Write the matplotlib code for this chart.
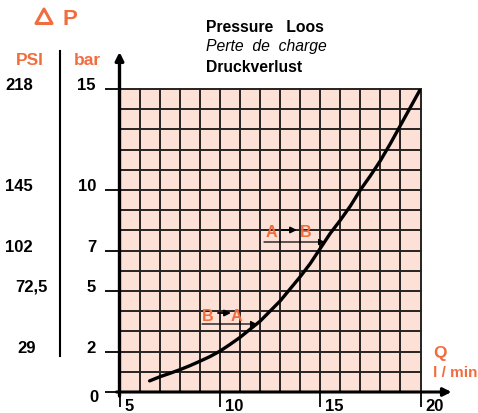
import matplotlib
matplotlib.use("Agg")
import matplotlib.pyplot as plt
import matplotlib.transforms as mtransforms
from matplotlib.patches import Polygon

# Pressure drop curve: flow (l/min) vs pressure loss (bar)
flow = [6.5, 7.0, 7.5, 8.0, 8.5, 9.0, 9.5, 10.0, 10.5, 11.0, 11.5, 12.0, 12.5,
        13.0, 13.5, 14.0, 14.5, 15.0, 15.5, 16.0, 16.5, 17.0, 17.5, 18.0,
        18.5, 19.0, 19.5, 20.0]
pressure_bar = [0.55, 0.75, 0.92, 1.1, 1.3, 1.52, 1.75, 2.02, 2.35, 2.7, 3.1,
                3.5, 4.0, 4.5, 5.1, 5.7, 6.35, 7.1, 7.85, 8.5, 9.2, 10.0,
                10.7, 11.45, 12.3, 13.2, 14.1, 15.0]

flow_ticks = [5, 10, 15, 20]
bar_ticks = [15, 10, 7, 5, 2, 0]
psi_ticks = [15, 10, 7, 5, 2]
psi_labels = ["218", "145", "102", "72,5", "29"]
psi_x = [5, 5, 5, 15, 17]

W, H = 478, 414
ORANGE = "#F26D3D"
PINK = "#FDE0D6"
GRID = "#262222"
FONT = ["Liberation Sans", "DejaVu Sans"]

fig = plt.figure(figsize=(W / 100, H / 100), dpi=100)
x0, x1 = 119.5, 420.5
y0, y1 = 393.0, 90.0
ax = fig.add_axes([x0 / W, 1 - y0 / H, (x1 - x0) / W, (y0 - y1) / H])
ax.set_xlim(5, 20)
ax.set_ylim(0, 15)
ax.set_facecolor(PINK)
for s in ax.spines.values():
    s.set_visible(False)

# grid
for gx in range(6, 21):
    ax.plot([gx, gx], [0, 15], color=GRID, lw=1.4, zorder=1, clip_on=False)
for gy in range(1, 16):
    ax.plot([5, 20], [gy, gy], color=GRID, lw=1.4, zorder=1, clip_on=False)

# ticks (labels drawn separately)
ax.set_xticks(flow_ticks)
ax.set_yticks(bar_ticks)
ax.tick_params(axis="both", direction="out", length=11, width=1.3,
               color="black", labelbottom=False, labelleft=False)

# axes with arrows
ax.annotate("", xy=(20 + 31 / 20.07, 0), xytext=(5 - 0.15, 0),
            arrowprops=dict(arrowstyle="-|>", lw=2.2, color="black",
                            mutation_scale=12, shrinkA=0, shrinkB=0),
            annotation_clip=False, zorder=5)
ax.annotate("", xy=(5, 15 + 37 / 20.2), xytext=(5, -0.2),
            arrowprops=dict(arrowstyle="-|>", lw=2.4, color="black",
                            mutation_scale=12, shrinkA=0, shrinkB=0),
            annotation_clip=False, zorder=5)

# curve
ax.plot(flow, pressure_bar, color="black", lw=2.4, zorder=4,
        solid_capstyle="round")

# x tick labels
off_x = mtransforms.ScaledTranslation(5 / 100, -18 / 100, fig.dpi_scale_trans)
bx = mtransforms.blended_transform_factory(ax.transData, ax.transAxes)
for t in flow_ticks:
    ax.text(t, 0, str(t), transform=bx + off_x, ha="left", va="baseline",
            fontsize=12, fontweight="bold", family=FONT)

# bar labels
by = mtransforms.blended_transform_factory(fig.transFigure, ax.transData)
off_zero = mtransforms.ScaledTranslation(0, -9 / 100, fig.dpi_scale_trans)
for t in bar_ticks:
    tr = by + off_zero if t == 0 else by
    rx = 98 if t == 0 else 96
    ax.text(rx / W, t, str(t), transform=tr, ha="right", va="baseline",
            fontsize=12, fontweight="bold", family=FONT)

# PSI labels
for t, lab, px in zip(psi_ticks, psi_labels, psi_x):
    ax.text(px / W, t, lab, transform=by, ha="left", va="baseline",
            fontsize=12, fontweight="bold", family=FONT)


def ftext(px, py, s, **kw):
    fig.text(px / W, 1 - py / H, s, family=FONT, va="baseline", **kw)


ftext(16, 65, "PSI", color=ORANGE, fontsize=12.5, fontweight="bold",
      ha="left")
ftext(74, 65, "bar", color=ORANGE, fontsize=12.5, fontweight="bold",
      ha="left")
fig.add_artist(plt.Line2D([60 / W, 60 / W], [1 - 52 / H, 1 - 357 / H],
                          color="black", lw=1.5))

# delta symbol
tri = Polygon([[44 / W, 1 - 10 / H], [36 / W, 1 - 24.5 / H],
               [52 / W, 1 - 24.5 / H]], closed=True, fill=False,
              edgecolor=ORANGE, lw=2.2, joinstyle="round",
              transform=fig.transFigure)
fig.add_artist(tri)
ftext(62, 25, "P", color=ORANGE, fontsize=16, fontweight="bold", ha="left")

ftext(206, 32.5, "Pressure   Loos", fontsize=11.3, fontweight="bold",
      ha="left")
ftext(206, 51, "Perte  de  charge", fontsize=11.3, style="italic",
      ha="left")
ftext(206, 71.5, "Druckverlust", fontsize=11.3, fontweight="bold",
      ha="left")

ftext(433, 358, "Q", color=ORANGE, fontsize=12.5, fontweight="bold",
      ha="left")
ftext(433, 377, "l / min", color=ORANGE, fontsize=11, fontweight="bold",
      ha="left")


def px2data(px, py):
    return (px - x0) / 20.07 + 5, (y0 - py) / 20.2


def direction_label(a, b, ax_a, ax_b, base, arr0, arr1, arr_y,
                    ln0, ln1, ln_y):
    ax.text(*px2data(ax_a, base), a, color=ORANGE, fontsize=11.5,
            fontweight="bold", family=FONT, ha="left", va="baseline",
            zorder=6)
    ax.annotate("", xy=px2data(arr1, arr_y), xytext=px2data(arr0, arr_y),
                arrowprops=dict(arrowstyle="-|>", lw=1.3, color="black",
                                mutation_scale=9, shrinkA=0, shrinkB=0),
                zorder=6)
    ax.text(*px2data(ax_b, base), b, color=ORANGE, fontsize=11.5,
            fontweight="bold", family=FONT, ha="left", va="baseline",
            zorder=6)
    ax.annotate("", xy=px2data(ln1, ln_y), xytext=px2data(ln0, ln_y),
                arrowprops=dict(arrowstyle="-|>", lw=0.9, color="black",
                                mutation_scale=9, shrinkA=0, shrinkB=0),
                zorder=6)


direction_label("A", "B", 266, 300, 237, 282, 297, 231, 264, 325, 243)
direction_label("B", "A", 202, 231, 321, 218, 231, 314, 202, 257, 325)

fig.savefig("out.png", dpi=100)
